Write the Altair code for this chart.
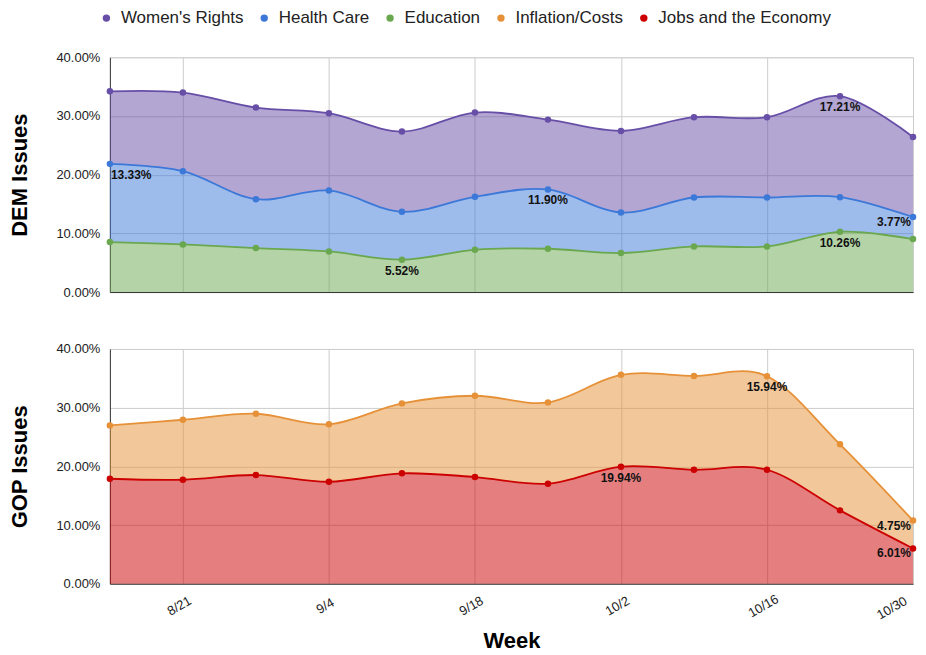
import altair as alt
import pandas as pd

# ---------------- data ----------------
WEEKS = ["8/14", "8/21", "8/28", "9/4", "9/11", "9/18", "9/25",
         "10/2", "10/9", "10/16", "10/23", "10/30"]
TICK_WEEKS = ["8/21", "9/4", "9/18", "10/2", "10/16", "10/30"]

SERIES = ["Women's Rights", "Health Care", "Education",
          "Inflation/Costs", "Jobs and the Economy"]
COLORS = ["#674ea7", "#3c78d8", "#6aa84f", "#e69138", "#cc0000"]

# DEM panel (percent)
WOMENS_RIGHTS = [12.36, 13.39, 15.61, 13.16, 13.68, 14.36, 11.90, 13.90, 13.68, 13.68, 17.21, 13.62]
HEALTH_CARE = [13.33, 12.49, 8.34, 10.39, 8.15, 9.03, 10.10, 6.92, 8.34, 8.34, 5.91, 3.77]
EDUCATION = [8.51, 8.11, 7.49, 6.92, 5.52, 7.20, 7.38, 6.64, 7.77, 7.77, 10.26, 9.02]

# GOP panel (percent)
INFLATION = [9.09, 10.22, 10.44, 9.78, 11.92, 13.85, 13.86, 15.65, 15.98, 15.94, 11.25, 4.75]
JOBS = [17.89, 17.72, 18.52, 17.38, 18.81, 18.18, 17.04, 19.94, 19.42, 19.42, 12.50, 6.01]

# annotations: (series whose point the label sits under, week, text)
DEM_LABELS = [("Health Care", "8/14", "13.33%"), ("Education", "9/11", "5.52%"),
              ("Health Care", "9/25", "11.90%"), ("Women's Rights", "10/23", "17.21%"),
              ("Education", "10/23", "10.26%"), ("Health Care", "10/30", "3.77%")]
GOP_LABELS = [("Jobs and the Economy", "10/2", "19.94%"), ("Inflation/Costs", "10/16", "15.94%"),
              ("Inflation/Costs", "10/30", "4.75%"), ("Jobs and the Economy", "10/30", "6.01%")]

FONT = "Liberation Sans"


def build_df(series_list, labels):
    lab = {(s, w): t for s, w, t in labels}
    rows = []
    for order, (name, vals) in enumerate(series_list):
        for i, (w, v) in enumerate(zip(WEEKS, vals)):
            pos = "first" if i == 0 else ("last" if i == len(WEEKS) - 1 else "mid")
            rows.append({"week": w, "series": name, "value": v, "order": order,
                         "label": lab.get((name, w), ""), "pos": pos})
    return pd.DataFrame(rows)


dem_df = build_df([("Education", EDUCATION), ("Health Care", HEALTH_CARE),
                   ("Women's Rights", WOMENS_RIGHTS)], DEM_LABELS)
gop_df = build_df([("Jobs and the Economy", JOBS), ("Inflation/Costs", INFLATION)], GOP_LABELS)

color_scale = alt.Scale(domain=SERIES, range=COLORS)
LAST_TEST = f"datum.value === '{WEEKS[-1]}'"


def panel(df, title, bottom):
    base = alt.Chart(df).transform_stack(
        stack="value", as_=["y0", "y1"], groupby=["week"],
        sort=[alt.SortField("order", order="ascending")]
    )
    if bottom:
        xaxis = alt.Axis(values=TICK_WEEKS, grid=True, gridColor="#cccccc", ticks=False,
                         tickSize=0, labelAngle=-30,
                         labelAlign={"condition": {"test": LAST_TEST, "value": "right"},
                                     "value": "center"},
                         labelBaseline={"condition": {"test": LAST_TEST, "value": "bottom"},
                                        "value": "middle"},
                         labelPadding=22, labelOffset=-4, labelFont=FONT, labelFontSize=13,
                         labelColor="#222222", domainColor="#333333", title="Week",
                         titleFont=FONT, titleFontSize=22, titleFontWeight="bold",
                         titleColor="#000000", titlePadding=9)
        color = alt.Color("series:N", scale=color_scale, legend=None)
    else:
        xaxis = alt.Axis(values=TICK_WEEKS, grid=True, gridColor="#cccccc", ticks=False,
                         tickSize=0, labels=False, domainColor="#333333", title=None,
                         minExtent=0, maxExtent=0)
        legend = alt.Legend(title=None, orient="none", direction="horizontal",
                            legendX=-12, legendY=-48,
                            symbolType="circle", symbolSize=55, labelFont=FONT,
                            labelFontSize=17, labelColor="#222222", labelOffset=6,
                            columnPadding=12, labelLimit=0, symbolStrokeWidth=0,
                            symbolOpacity=1)
        color = alt.Color("series:N", scale=color_scale, legend=legend)
    x = alt.X("week:O", sort=WEEKS, scale=alt.Scale(type="point", padding=0), axis=xaxis)
    yaxis = alt.Axis(values=[0, 10, 20, 30, 40], labelExpr="format(datum.value, '.2f') + '%'",
                     grid=True, gridColor="#cccccc", ticks=False, tickSize=0, labelPadding=10,
                     labelFont=FONT, labelFontSize=13, labelColor="#222222",
                     domainColor="#333333", title=title, titleFont=FONT, titleFontSize=22,
                     titleFontWeight="bold", titleColor="#000000", titlePadding=24)
    y = alt.Y("y1:Q", scale=alt.Scale(domain=[0, 40], nice=False), axis=yaxis)

    area = base.mark_area(interpolate="cardinal", fillOpacity=0.5, strokeWidth=0).encode(
        x=x, y=y, y2="y0:Q", color=color, order=alt.Order("order:Q"))
    line = base.mark_line(interpolate="cardinal", strokeWidth=1.8).encode(
        x=x, y=y, color=color, detail="series:N")
    pts = base.mark_circle(size=42, opacity=1).encode(x=x, y=y, color=color)
    txt_kw = dict(font=FONT, fontSize=12, fontWeight="bold", color="#111111", baseline="middle")
    t_mid = base.mark_text(align="center", dy=11, **txt_kw).encode(
        x=x, y=y, text="label:N").transform_filter("datum.label != '' && datum.pos == 'mid'")
    t_first = base.mark_text(align="left", dx=1, dy=11, **txt_kw).encode(
        x=x, y=y, text="label:N").transform_filter("datum.label != '' && datum.pos == 'first'")
    t_last = base.mark_text(align="right", dx=-2, dy=5, **txt_kw).encode(
        x=x, y=y, text="label:N").transform_filter("datum.label != '' && datum.pos == 'last'")
    return alt.layer(area, line, pts, t_mid, t_first, t_last).properties(width=804, height=235)


chart = alt.vconcat(panel(dem_df, "DEM Issues", False), panel(gop_df, "GOP Issues", True),
                    spacing=42).resolve_scale(color="independent").properties(
    padding={"left": 0, "top": 0, "right": 0, "bottom": 0}
).configure_view(stroke=None).configure(background="white")

chart.save("out.html", embed_options={"renderer": "svg", "actions": False})
